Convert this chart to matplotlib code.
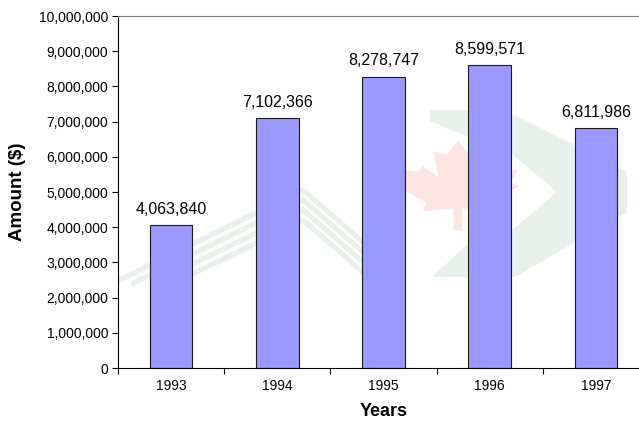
import numpy as np
import matplotlib.pyplot as plt
from matplotlib.patches import Polygon
from matplotlib.ticker import FuncFormatter

plt.rcParams['font.family'] = ['Liberation Sans', 'DejaVu Sans']

years = ['1993', '1994', '1995', '1996', '1997']
amounts = [4063840, 7102366, 8278747, 8599571, 6811986]

W, H = 639, 421
# plot area in pixels (left, right, top, bottom); the right edge runs past the canvas
AX_L, AX_R, AX_T, AX_B = 118, 649, 16, 368


def px(x, y):
    """pixel position -> axes fraction, for the background logo"""
    return ((x - AX_L) / (AX_R - AX_L), (AX_B - y) / (AX_B - AX_T))


def draw_logo(ax):
    green = '#e8f0ea'
    red = '#fce5e0'
    # chevron
    chev = [(430, 110), (505, 110), (627, 172), (627, 212), (515, 277),
            (432, 277), (470, 242), (515, 228), (557, 192), (513, 155),
            (430, 121)]
    ax.add_patch(Polygon([px(*p) for p in chev], closed=True, fc=green,
                         ec='none', transform=ax.transAxes, zorder=0))
    # roof stripes
    for k in range(4):
        ay = 190 + 10 * k
        xl = 303 - (283 - ay) / 0.49
        xr = 303 + (276 - ay) / 0.87
        pts = [px(xl, 283), px(303, ay), px(xr, 276)]
        xs, ys = zip(*pts)
        ax.plot(xs, ys, color=green, lw=3.6, solid_joinstyle='miter',
                transform=ax.transAxes, zorder=0)
    # maple leaf
    half = [(0, 1.00), (0.13, 0.75), (0.28, 0.82), (0.22, 0.35), (0.40, 0.55),
            (0.45, 0.45), (0.68, 0.50), (0.60, 0.25), (0.70, 0.20),
            (0.35, -0.10), (0.40, -0.25), (0.05, -0.20), (0.05, -0.60)]
    leaf = half + [(-x, y) for x, y in reversed(half)]
    cx, cy, sx, sy = 458, 197, 88, 56
    ax.add_patch(Polygon([px(cx + x * sx, cy - y * sy) for x, y in leaf],
                         closed=True, fc=red, ec='none',
                         transform=ax.transAxes, zorder=0))


fig = plt.figure(figsize=(W / 100, H / 100), dpi=100, facecolor='white')
ax = fig.add_axes([AX_L / W, 1 - AX_B / H, (AX_R - AX_L) / W, (AX_B - AX_T) / H])

draw_logo(ax)

x = np.arange(len(years))
bars = ax.bar(x, amounts, width=0.4, color='#9999ff', edgecolor='#1a1a1a',
              linewidth=0.8, zorder=2)

for xi, v in zip(x, amounts):
    ax.annotate('{:,}'.format(v), (xi, v), xytext=(0, 6),
                textcoords='offset points', ha='center', va='bottom',
                fontsize=11.5, zorder=3)

ax.set_xlim(-0.5, len(years) - 0.5)
ax.set_ylim(0, 10000000)
ax.set_yticks(np.arange(0, 10000001, 1000000))
ax.yaxis.set_major_formatter(FuncFormatter(lambda v, p: '{:,}'.format(int(v))))

# category ticks sit between the bars, labels under the bars
ax.set_xticks(np.arange(-0.5, len(years), 1.0))
ax.set_xticklabels([])
ax.set_xticks(x, minor=True)
ax.set_xticklabels(years, minor=True, fontsize=10)
ax.tick_params(axis='x', which='minor', length=0, pad=8)
ax.tick_params(axis='x', which='major', length=4, width=0.8, direction='out')
ax.tick_params(axis='y', length=4, width=0.8, labelsize=10, pad=3)

ax.spines['top'].set_color('#808080')
ax.spines['top'].set_linewidth(0.8)
ax.spines['left'].set_linewidth(0.8)
ax.spines['bottom'].set_linewidth(0.8)
ax.spines['right'].set_visible(False)

ax.set_xlabel('Years', fontsize=13, fontweight='bold', labelpad=7)
ax.set_ylabel('Amount ($)', fontsize=13.5, fontweight='bold', labelpad=9)

fig.savefig('out.png', dpi=100, facecolor='white')
